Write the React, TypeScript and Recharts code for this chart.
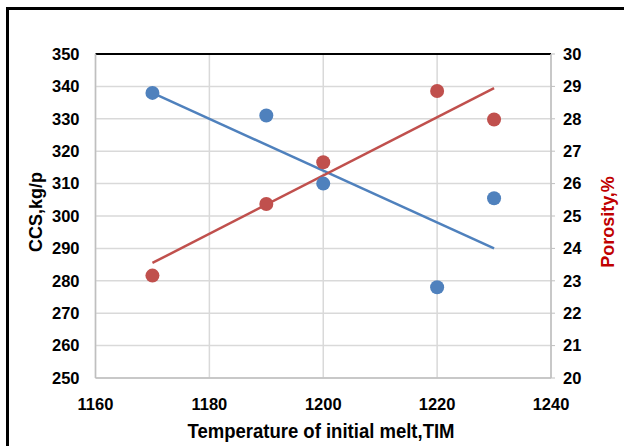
import React from "react";
import { ComposedChart, Scatter, Line, XAxis, YAxis, CartesianGrid, ReferenceLine } from "recharts";

const temps = [1170, 1190, 1200, 1220, 1230];
const ccsValues = [338, 331, 310, 278, 305.5];
const porosityValues = [23.16, 25.37, 26.66, 28.86, 27.98];
const trendTemps = [1170, 1230];
const ccsTrend = [338, 290];
const porosityTrend = [23.55, 28.95];
const xTicks = [1160, 1180, 1200, 1220, 1240];
const ccsTicks = [250, 260, 270, 280, 290, 300, 310, 320, 330, 340, 350];
const porosityTicks = [20, 21, 22, 23, 24, 25, 26, 27, 28, 29, 30];

const ccsData = temps.map((t, i) => ({ t, v: ccsValues[i] }));
const porosityData = temps.map((t, i) => ({ t, v: porosityValues[i] }));
const ccsTrendData = trendTemps.map((t, i) => ({ t, v: ccsTrend[i] }));
const porosityTrendData = trendTemps.map((t, i) => ({ t, v: porosityTrend[i] }));

const FONT = "'Liberation Sans', Arial, sans-serif";
const BLUE = "#4F81BD";
const RED = "#C0504D";
const GRID = "#D9D9D9";

const tick = (anchor: string, dy: string) => (p: any) => (
  <text x={p.x} y={p.y} dy={dy} textAnchor={anchor} fontFamily={FONT} fontSize={16.5} fontWeight={700} fill="#000">
    {p.payload.value}
  </text>
);

const dot = (color: string) => (p: any) => <circle cx={p.cx} cy={p.cy} r={7} fill={color} />;

export default function App() {
  return (
    <div style={{ position: "absolute", left: 0, top: 0, width: 624, height: 446, overflow: "hidden", background: "#fff" }}>
      <div style={{ position: "absolute", left: 6, top: 7, width: 640, height: 460, border: "3px solid #000", boxSizing: "border-box" }} />
      <ComposedChart width={624} height={446} margin={{ top: 54, left: 35.5, right: 13, bottom: 38 }} style={{ position: "absolute", left: 0, top: 0 }}>
        <CartesianGrid horizontal={false} stroke={GRID} strokeWidth={1.5} />
        {ccsTicks.map((v) => (
          <ReferenceLine key={v} yAxisId="left" y={v} stroke={v === 350 ? "#000" : GRID} strokeWidth={v === 350 ? 2 : 1.5} />
        ))}
        <XAxis dataKey="t" type="number" domain={[1160, 1240]} ticks={xTicks} allowDuplicatedCategory={false}
          tickLine={false} axisLine={{ stroke: "#BFBFBF", strokeWidth: 1.5 }} tick={tick("middle", "0.71em")} tickMargin={14} height={30} />
        <YAxis yAxisId="left" dataKey="v" type="number" domain={[250, 350]} ticks={ccsTicks} interval={0}
          tickLine={false} axisLine={{ stroke: "#BFBFBF", strokeWidth: 1.5 }} tick={tick("end", "0.355em")} tickMargin={10} width={60} />
        <YAxis yAxisId="right" orientation="right" dataKey="v" type="number" domain={[20, 30]} ticks={porosityTicks} interval={0}
          tickLine={{ stroke: "#BFBFBF" }} tickSize={4} axisLine={{ stroke: "#BFBFBF", strokeWidth: 1.5 }} tick={tick("start", "0.355em")} tickMargin={8} width={60} />
        <Line yAxisId="left" data={ccsTrendData} dataKey="v" stroke={BLUE} strokeWidth={2.5} dot={false} isAnimationActive={false} />
        <Line yAxisId="right" data={porosityTrendData} dataKey="v" stroke={RED} strokeWidth={2.5} dot={false} isAnimationActive={false} />
        <Scatter yAxisId="left" data={ccsData} dataKey="v" shape={dot(BLUE)} isAnimationActive={false} />
        <Scatter yAxisId="right" data={porosityData} dataKey="v" shape={dot(RED)} isAnimationActive={false} />
      </ComposedChart>
      <svg width={624} height={446} style={{ position: "absolute", left: 0, top: 0, pointerEvents: "none" }}>
        <g transform="translate(321,438) scale(0.926,1)">
          <text textAnchor="middle" fontFamily={FONT} fontSize={20} fontWeight={700} fill="#000">Temperature of initial melt,TIM</text>
        </g>
        <text transform="translate(42,212) rotate(-90)" textAnchor="middle" fontFamily={FONT} fontSize={18} fontWeight={700} fill="#000">CCS,kg/p</text>
        <text transform="translate(614,222) rotate(-90)" textAnchor="middle" fontFamily={FONT} fontSize={18} fontWeight={700} fill="#C00000">Porosity,%</text>
      </svg>
    </div>
  );
}
